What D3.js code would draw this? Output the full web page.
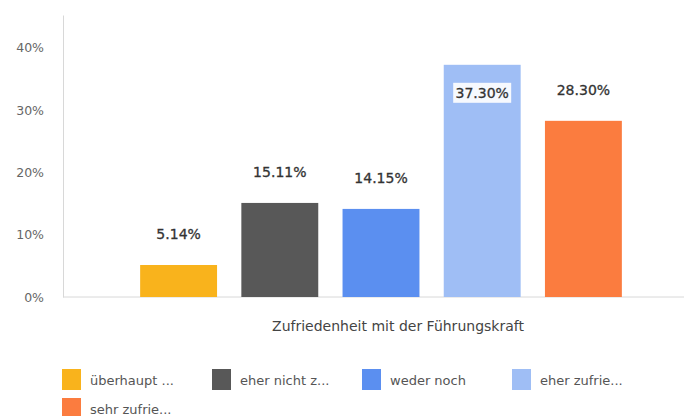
<!DOCTYPE html>
<html>
<head>
<meta charset="utf-8">
<script src="https://cdn.jsdelivr.net/npm/d3@7"></script>
<style>
  body { margin: 0; background: #fff; font-family: "DejaVu Sans", sans-serif; }
  .axis text { fill: #666; font-size: 12.5px; font-family: "DejaVu Sans", sans-serif; }
</style>
</head>
<body>
<div class="chart"></div>
<script>
const categories = ["überhaupt nicht zufrieden", "eher nicht zufrieden", "weder noch", "eher zufrieden", "sehr zufrieden"];
const legendLabels = ["überhaupt ...", "eher nicht z...", "weder noch", "eher zufrie...", "sehr zufrie..."];
const values = [5.14, 15.11, 14.15, 37.30, 28.30];
const colors = ["#f9b31c", "#585858", "#5b8ff0", "#9fbef5", "#fb7c3f"];
const yTicks = [0, 10, 20, 30, 40];
const axisTitle = "Zufriedenheit mit der Führungskraft";

const width = 684, height = 416;
const svg = d3.select(".chart").append("svg").attr("width", width).attr("height", height);

let xScale = d3.scaleBand().domain(categories).range([128, 634]).paddingInner(0.24).paddingOuter(0.12);
let yScale = d3.scaleLinear().domain([0, 45.3]).range([297, 15]);

// axes
const yAxis = d3.axisLeft(yScale).tickValues(yTicks).tickFormat(d => d + "%").tickSize(0).tickPadding(19);
svg.append("g")
  .attr("class", "axis y-axis")
  .attr("transform", "translate(63,0)")
  .call(yAxis)
  .call(g => g.select(".domain").attr("stroke", "#d8d8d8"));

svg.append("line")
  .attr("x1", 63).attr("x2", width)
  .attr("y1", yScale(0)).attr("y2", yScale(0))
  .attr("stroke", "#d8d8d8");

// bars
svg.selectAll("rect.bar")
  .data(values)
  .enter()
  .append("rect")
  .attr("class", "bar")
  .attr("x", (d, i) => xScale(categories[i]))
  .attr("y", d => yScale(d))
  .attr("width", xScale.bandwidth())
  .attr("height", d => yScale(0) - yScale(d))
  .attr("fill", (d, i) => colors[i]);

// value labels (inside the bar with white box when there's no room above)
const labels = svg.selectAll("g.lbl")
  .data(values)
  .enter()
  .append("g")
  .attr("class", "lbl")
  .attr("transform", (d, i) => {
    const top = yScale(d);
    const y = top - 31 < 50 ? top + 28 : top - 31;
    return `translate(${xScale(categories[i]) + xScale.bandwidth() / 2},${y})`;
  });

labels.filter(d => yScale(d) - 31 < 50)
  .append("rect")
  .attr("x", -29).attr("y", -10).attr("width", 58).attr("height", 20)
  .attr("fill", "#fff").attr("opacity", 0.9);

labels.append("text")
  .attr("text-anchor", "middle")
  .attr("dy", "0.35em")
  .attr("fill", "#333")
  .attr("stroke", "#333")
  .attr("stroke-width", 0.3)
  .attr("font-size", 14)
  .text(d => d.toFixed(2) + "%");

svg.append("text")
  .attr("x", 398).attr("y", 331)
  .attr("text-anchor", "middle")
  .attr("fill", "#444")
  .attr("font-size", 14)
  .text(axisTitle);

// legend
const legend = svg.selectAll("g.leg")
  .data(legendLabels)
  .enter()
  .append("g")
  .attr("class", "leg")
  .attr("transform", (d, i) => `translate(${62 + (i % 4) * 150},${369 + Math.floor(i / 4) * 29})`);

legend.append("rect")
  .attr("width", 19).attr("height", 21)
  .attr("fill", (d, i) => colors[i]);

legend.append("text")
  .attr("x", 28).attr("y", 11)
  .attr("dy", "0.35em")
  .attr("fill", "#555")
  .attr("font-size", 13)
  .text(d => d);
</script>
</body>
</html>
